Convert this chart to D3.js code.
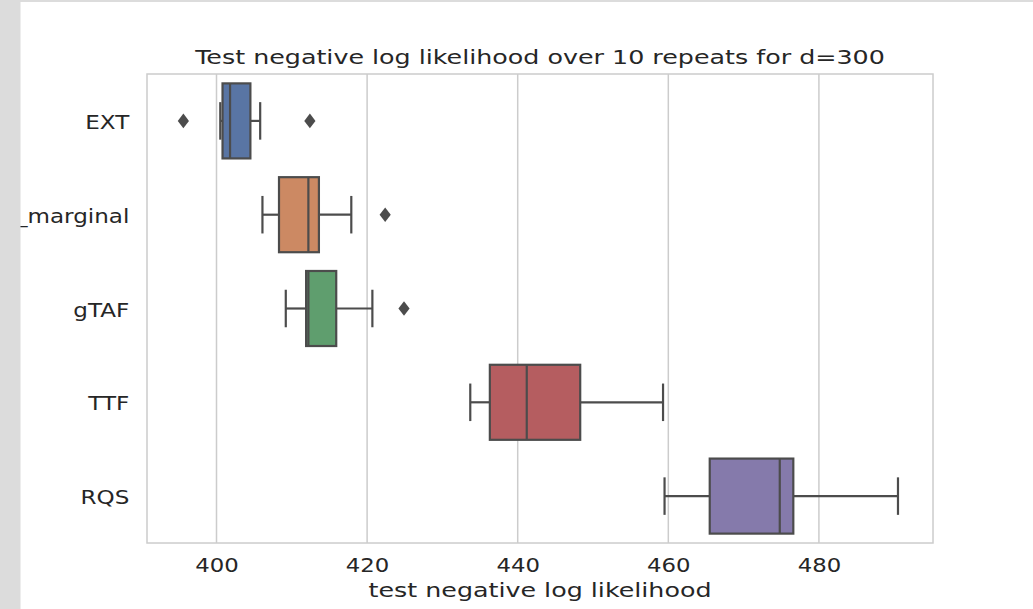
<!DOCTYPE html>
<html lang="en">
<head>
<meta charset="UTF-8">
<script src="https://d3js.org/d3.v7.min.js"></script>
<title>Test negative log likelihood</title>
<style>
  html, body { margin: 0; padding: 0; background: #fff; overflow: hidden; }
  text { font-family: "DejaVu Sans", sans-serif; fill: #262626; }
</style>
</head>
<body>
<script>
// box statistics
const categories = ["EXT", "gTAF_marginal", "gTAF", "TTF", "RQS"];
const q1 = [400.8, 408.3, 411.9, 436.3, 465.5];
const medians = [401.8, 412.2, 412.2, 441.2, 474.8];
const q3 = [404.5, 413.6, 415.9, 448.3, 476.6];
const whiskerLow = [400.5, 406.1, 409.2, 433.7, 459.5];
const whiskerHigh = [405.8, 417.9, 420.7, 459.3, 490.5];
const outliers = [[395.6, 412.4], [422.4], [424.9], [], []];
const xTicks = [400, 420, 440, 460, 480];
const colors = ["#5975a4", "#cc8963", "#5f9e6e", "#b55d60", "#857aab"];

const width = 1033, height = 609;
const margin = { top: 74, right: 100, bottom: 66, left: 147 };
const lineColor = "#4c4c4c";
const stretch = 1.2;      // tick text in the picture is drawn a bit wider
const yStretch = 1.24;
const titleStretch = 1.3; // and the title / axis label even more

const svg = d3.select("body").append("svg")
  .attr("width", width)
  .attr("height", height);

const x = d3.scaleLinear()
  .domain([390.77, 495.15])
  .range([margin.left, width - margin.right]);

const y = d3.scaleBand()
  .domain(categories)
  .range([margin.top, height - margin.bottom])
  .padding(0);

// grid
svg.append("g")
  .selectAll("line")
  .data(xTicks)
  .join("line")
  .attr("x1", d => x(d)).attr("x2", d => x(d))
  .attr("y1", margin.top).attr("y2", height - margin.bottom)
  .attr("stroke", "#cccccc")
  .attr("stroke-width", 1.5);

const rows = categories.map((c, i) => ({
  cat: c, q1: q1[i], med: medians[i], q3: q3[i],
  lo: whiskerLow[i], hi: whiskerHigh[i], out: outliers[i], color: colors[i]
}));

const boxH = y.bandwidth() * 0.8;
const g = svg.append("g");

// thin diamond like matplotlib's 'd' marker
const diamond = (cx, cy) => {
  const p = d3.path();
  p.moveTo(cx, cy - 7.3);
  p.lineTo(cx + 5.6, cy);
  p.lineTo(cx, cy + 7.3);
  p.lineTo(cx - 5.6, cy);
  p.closePath();
  return p.toString();
};

rows.forEach(d => {
  const cy = y(d.cat) + y.bandwidth() / 2;
  const row = g.append("g");
  // whiskers
  row.append("line")
    .attr("x1", x(d.lo)).attr("x2", x(d.q1))
    .attr("y1", cy).attr("y2", cy)
    .attr("stroke", lineColor).attr("stroke-width", 2.2);
  row.append("line")
    .attr("x1", x(d.q3)).attr("x2", x(d.hi))
    .attr("y1", cy).attr("y2", cy)
    .attr("stroke", lineColor).attr("stroke-width", 2.2);
  // caps
  [d.lo, d.hi].forEach(v => {
    row.append("line")
      .attr("x1", x(v)).attr("x2", x(v))
      .attr("y1", cy - boxH / 4).attr("y2", cy + boxH / 4)
      .attr("stroke", lineColor).attr("stroke-width", 2.2);
  });
  // box
  row.append("rect")
    .attr("x", x(d.q1))
    .attr("y", cy - boxH / 2)
    .attr("width", x(d.q3) - x(d.q1))
    .attr("height", boxH)
    .attr("fill", d.color)
    .attr("stroke", lineColor)
    .attr("stroke-width", 2.2);
  // median
  row.append("line")
    .attr("x1", x(d.med)).attr("x2", x(d.med))
    .attr("y1", cy - boxH / 2).attr("y2", cy + boxH / 2)
    .attr("stroke", lineColor).attr("stroke-width", 2.2);
  // outliers
  row.selectAll("path.out")
    .data(d.out)
    .join("path")
    .attr("class", "out")
    .attr("d", v => diamond(x(v), cy))
    .attr("fill", lineColor);
});

// frame
svg.append("rect")
  .attr("x", margin.left)
  .attr("y", margin.top)
  .attr("width", width - margin.right - margin.left)
  .attr("height", height - margin.bottom - margin.top)
  .attr("fill", "none")
  .attr("stroke", "#cccccc")
  .attr("stroke-width", 1.5);

// x axis
const xAxis = svg.append("g")
  .attr("transform", `translate(0,${height - margin.bottom})`)
  .call(d3.axisBottom(x).tickValues(xTicks).tickSize(0).tickPadding(16));
xAxis.select(".domain").remove();
xAxis.selectAll("text")
  .style("font-size", "19px")
  .attr("fill", "#262626")
  .attr("transform", `scale(${stretch},1)`);

// y axis
const yAxis = svg.append("g")
  .attr("transform", `translate(${margin.left},0)`)
  .call(d3.axisLeft(y).tickSize(0));
yAxis.select(".domain").remove();
yAxis.selectAll("text")
  .style("font-size", "18.6px")
  .attr("fill", "#262626")
  .attr("x", -17.7 / yStretch)
  .attr("dy", "0.44em")
  .attr("transform", `scale(${yStretch},1)`);

// title
svg.append("text")
  .attr("transform", `translate(${(margin.left + width - margin.right) / 2},64) scale(${titleStretch},1)`)
  .attr("text-anchor", "middle")
  .style("font-size", "19.5px")
  .text("Test negative log likelihood over 10 repeats for d=300");

// x label
svg.append("text")
  .attr("transform", `translate(${(margin.left + width - margin.right) / 2},597) scale(${titleStretch},1)`)
  .attr("text-anchor", "middle")
  .style("font-size", "19.5px")
  .text("test negative log likelihood");

// window edges
svg.append("rect")
  .attr("x", 0).attr("y", 0)
  .attr("width", 20.5).attr("height", height)
  .attr("fill", "#dcdcdc");
svg.append("rect")
  .attr("x", 0).attr("y", 0)
  .attr("width", width).attr("height", 2)
  .attr("fill", "#dcdcdc");
</script>
</body>
</html>
